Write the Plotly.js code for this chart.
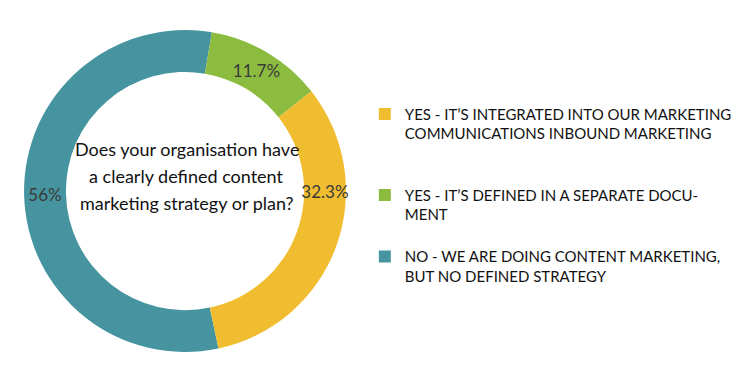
<!DOCTYPE html>
<html>
<head>
<meta charset="utf-8">
<script src="https://cdn.plot.ly/plotly-3.0.1.min.js"></script>
<style>html,body{margin:0;padding:0;background:#fff;}#chart{width:737px;height:386px;}</style>
</head>
<body>
<div id="chart"></div>
<script>
// Data in clockwise drawing order (legend shown reversed)
const categories = [
  "NO - WE ARE DOING CONTENT MARKETING,<br>BUT NO DEFINED STRATEGY",
  "YES - IT’S DEFINED IN A SEPARATE DOCU-<br>MENT<br> ",
  "YES - IT’S INTEGRATED INTO OUR MARKETING<br>COMMUNICATIONS INBOUND MARKETING<br> <br> "
];
const values = [56, 11.7, 32.3];
const valueLabels = ["56%", "11.7%", "32.3%"];
const colors = ["#4694a0", "#8cbc3f", "#f1bd30"];
const centerLines = [
  "Does your organisation have",
  "a clearly defined content",
  "marketing strategy or plan?"
];

const FONT = "Lato, 'Open Sans', sans-serif";

const trace = {
  type: "pie",
  labels: categories,
  values: values,
  text: valueLabels,
  texttemplate: "%{text}",
  textinfo: "text",
  textposition: "inside",
  insidetextorientation: "horizontal",
  textfont: {family: FONT, size: 17, color: "#3a3a3a"},
  hole: 0.74,
  sort: false,
  direction: "clockwise",
  rotation: 168,
  marker: {colors: colors, line: {width: 0}},
  domain: {x: [0.0326, 0.4695], y: [0.088, 0.922]},
  hoverinfo: "none"
};

const annYs = [0.615, 0.544, 0.473];
const annotations = centerLines.map((t, i) => ({
  text: t, xref: "paper", yref: "paper", x: 0.2537, y: annYs[i],
  showarrow: false, xanchor: "center", yanchor: "middle",
  font: {family: FONT, size: 18, color: "#111111"}
}));

const layout = {
  width: 737, height: 386,
  margin: {l: 0, r: 0, t: 0, b: 0, autoexpand: false},
  paper_bgcolor: "#ffffff",
  plot_bgcolor: "#ffffff",
  showlegend: true,
  uniformtext: {minsize: 17, mode: "show"},
  legend: {
    x: 0.495, y: 0.747, xanchor: "left", yanchor: "top",
    valign: "top",
    traceorder: "reversed",
    font: {family: FONT, size: 15, color: "#111111"},
    bgcolor: "rgba(0,0,0,0)"
  },
  annotations: annotations
};

Plotly.newPlot("chart", [trace], layout, {displayModeBar: false, staticPlot: true});
</script>
</body>
</html>
